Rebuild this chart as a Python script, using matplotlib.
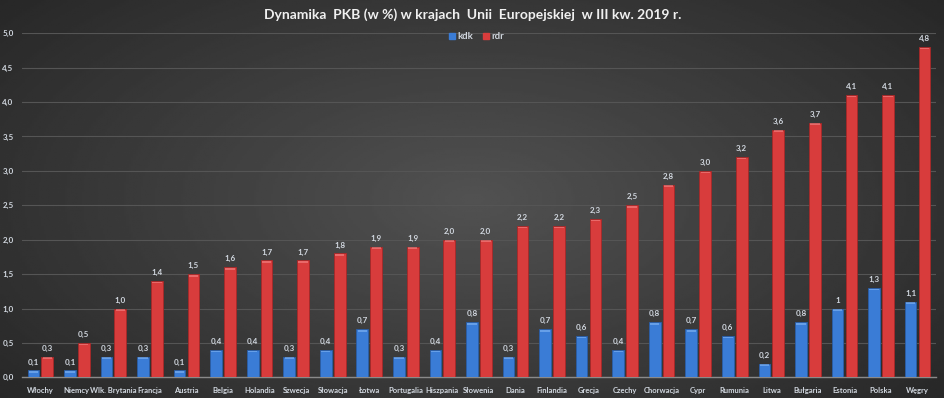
import numpy as np
import matplotlib
matplotlib.use("Agg")
import matplotlib.pyplot as plt

plt.rcParams['font.family'] = ['Lato', 'DejaVu Sans']

countries = ["Włochy", "Niemcy", "Wlk. Brytania", "Francja", "Austria", "Belgia",
             "Holandia", "Szwecja", "Słowacja", "Łotwa", "Portugalia", "Hiszpania",
             "Słowenia", "Dania", "Finlandia", "Grecja", "Czechy", "Chorwacja", "Cypr",
             "Rumunia", "Litwa", "Bułgaria", "Estonia", "Polska", "Węgry"]
kdk = [0.1, 0.1, 0.3, 0.3, 0.1, 0.4, 0.4, 0.3, 0.4, 0.7, 0.3, 0.4, 0.8, 0.3, 0.7,
       0.6, 0.4, 0.8, 0.7, 0.6, 0.2, 0.8, 1.0, 1.3, 1.1]
rdr = [0.3, 0.5, 1.0, 1.4, 1.5, 1.6, 1.7, 1.7, 1.8, 1.9, 1.9, 2.0, 2.0, 2.2, 2.2,
       2.3, 2.5, 2.8, 3.0, 3.2, 3.6, 3.7, 4.1, 4.1, 4.8]
kdk_labels = ["0,1", "0,1", "0,3", "0,3", "0,1", "0,4", "0,4", "0,3", "0,4", "0,7",
              "0,3", "0,4", "0,8", "0,3", "0,7", "0,6", "0,4", "0,8", "0,7", "0,6",
              "0,2", "0,8", "1", "1,3", "1,1"]
yticks = [0, 0.5, 1.0, 1.5, 2.0, 2.5, 3.0, 3.5, 4.0, 4.5, 5.0]

fig = plt.figure(figsize=(9.45, 3.98), dpi=100)

# dark radial-ish background
bg = fig.add_axes([0, 0, 1, 1], zorder=-10)
yy, xx = np.mgrid[0:1:200j, 0:1:400j]
d = np.sqrt(((xx - 0.5) / 0.75) ** 2 + ((yy - 0.5) / 0.9) ** 2)
bg.imshow(0.32 - 0.19 * d, cmap="gray", vmin=0, vmax=1, aspect="auto",
          extent=[0, 1, 0, 1])
bg.axis("off")

ax = fig.add_axes([0.0233, 0.0518, 0.967, 0.865])
ax.patch.set_alpha(0)
x = np.arange(len(countries))
w = 0.32
off = 0.19
ax.bar(x - off, kdk, w, color="#3a7cd6", edgecolor="#2a5ea8", linewidth=0.6, zorder=3)
ax.bar(x + off, rdr, w, color="#d83c3c", edgecolor="#a82828", linewidth=0.6, zorder=3)
# top highlight
ax.bar(x - off, [0.025] * len(x), w * 0.8, bottom=np.array(kdk) - 0.035,
       color="#9ccaff", alpha=0.45, linewidth=0, zorder=4)
ax.bar(x + off, [0.025] * len(x), w * 0.8, bottom=np.array(rdr) - 0.035,
       color="#ffa0a0", alpha=0.45, linewidth=0, zorder=4)

lab_col = "#d2d8e0"
for i in range(len(x)):
    ax.text(x[i] - off, kdk[i] + 0.07, kdk_labels[i], ha="center", va="bottom",
            fontsize=5.8, fontweight="bold", color=lab_col)
    ax.text(x[i] + off, rdr[i] + 0.07, f"{rdr[i]:.1f}".replace(".", ","),
            ha="center", va="bottom", fontsize=5.8, fontweight="bold", color=lab_col)

ax.set_xlim(-0.5, len(x) - 0.5)
ax.set_ylim(0, 5.0)
ax.set_yticks(yticks)
ax.set_yticklabels([f"{v:.1f}".replace(".", ",") for v in yticks])
ax.set_xticks(x)
ax.set_xticklabels(countries)
ax.tick_params(axis="y", length=0, labelsize=5.8, labelcolor=lab_col, pad=6)
ax.tick_params(axis="x", length=0, labelsize=5.5, labelcolor=lab_col, pad=7)
for lbl in ax.get_xticklabels() + ax.get_yticklabels():
    lbl.set_fontweight("bold")
ax.grid(axis="y", color="#555555", linewidth=0.8, zorder=0)
ax.set_axisbelow(True)
for s in ["top", "right", "left"]:
    ax.spines[s].set_visible(False)
ax.spines["bottom"].set_color("#8a8a8a")
ax.spines["bottom"].set_linewidth(1.0)

fig.text(0.5, 0.962, "Dynamika  PKB (w %) w krajach  Unii  Europejskiej  w III kw. 2019 r.",
         ha="center", va="center", fontsize=10, fontweight="bold", color="#f0f0f0")

# legend
fig.patches.append(plt.Rectangle((0.4755, 0.902), 0.0065, 0.015, color="#3a7cd6",
                                 transform=fig.transFigure, figure=fig))
fig.text(0.484, 0.909, "kdk", ha="left", va="center", fontsize=6.8,
         fontweight="bold", color=lab_col)
fig.patches.append(plt.Rectangle((0.511, 0.902), 0.0065, 0.015, color="#d83c3c",
                                 transform=fig.transFigure, figure=fig))
fig.text(0.5195, 0.909, "rdr", ha="left", va="center", fontsize=6.8,
         fontweight="bold", color=lab_col)

fig.savefig("out.png", dpi=100)
